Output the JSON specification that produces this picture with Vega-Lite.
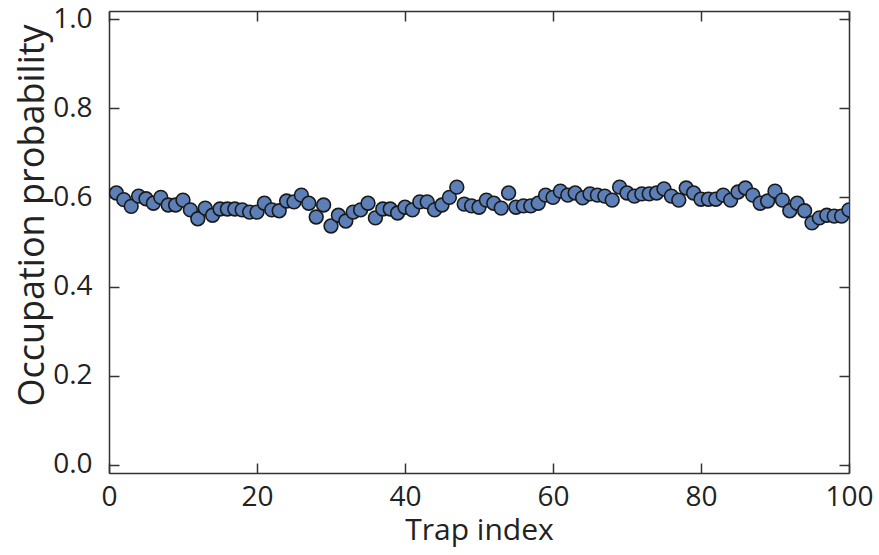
{
  "$schema": "https://vega.github.io/schema/vega-lite/v6.json",
  "autosize": "none",
  "width": 740,
  "height": 462,
  "padding": {"left": 109, "top": 11, "right": 30, "bottom": 82},
  "background": "white",
  "config": {
    "view": {"stroke": null},
    "font": "Open Sans",
    "axis": {
      "domainColor": "#333333",
      "domainWidth": 1.5,
      "tickColor": "#333333",
      "tickWidth": 1.5,
      "tickSize": -10,
      "grid": false,
      "labelFont": "Open Sans",
      "labelFontSize": 28,
      "labelColor": "#222222",
      "titleFont": "Open Sans",
      "titleFontSize": 30,
      "titleFontWeight": "normal",
      "titleColor": "#222222"
    }
  },
  "data": {
    "values": [
      {"trap": 1, "p": 0.61}, {"trap": 2, "p": 0.595}, {"trap": 3, "p": 0.58}, {"trap": 4, "p": 0.603}, {"trap": 5, "p": 0.597},
      {"trap": 6, "p": 0.587}, {"trap": 7, "p": 0.6}, {"trap": 8, "p": 0.583}, {"trap": 9, "p": 0.583}, {"trap": 10, "p": 0.594},
      {"trap": 11, "p": 0.572}, {"trap": 12, "p": 0.552}, {"trap": 13, "p": 0.576}, {"trap": 14, "p": 0.56}, {"trap": 15, "p": 0.574},
      {"trap": 16, "p": 0.574}, {"trap": 17, "p": 0.574}, {"trap": 18, "p": 0.572}, {"trap": 19, "p": 0.567}, {"trap": 20, "p": 0.567},
      {"trap": 21, "p": 0.587}, {"trap": 22, "p": 0.572}, {"trap": 23, "p": 0.57}, {"trap": 24, "p": 0.592}, {"trap": 25, "p": 0.59},
      {"trap": 26, "p": 0.605}, {"trap": 27, "p": 0.587}, {"trap": 28, "p": 0.556}, {"trap": 29, "p": 0.583}, {"trap": 30, "p": 0.536},
      {"trap": 31, "p": 0.56}, {"trap": 32, "p": 0.547}, {"trap": 33, "p": 0.567}, {"trap": 34, "p": 0.572}, {"trap": 35, "p": 0.587},
      {"trap": 36, "p": 0.554}, {"trap": 37, "p": 0.574}, {"trap": 38, "p": 0.574}, {"trap": 39, "p": 0.565}, {"trap": 40, "p": 0.578},
      {"trap": 41, "p": 0.572}, {"trap": 42, "p": 0.59}, {"trap": 43, "p": 0.59}, {"trap": 44, "p": 0.572}, {"trap": 45, "p": 0.583},
      {"trap": 46, "p": 0.6}, {"trap": 47, "p": 0.623}, {"trap": 48, "p": 0.585}, {"trap": 49, "p": 0.581}, {"trap": 50, "p": 0.578},
      {"trap": 51, "p": 0.594}, {"trap": 52, "p": 0.587}, {"trap": 53, "p": 0.576}, {"trap": 54, "p": 0.61}, {"trap": 55, "p": 0.578},
      {"trap": 56, "p": 0.581}, {"trap": 57, "p": 0.581}, {"trap": 58, "p": 0.587}, {"trap": 59, "p": 0.605}, {"trap": 60, "p": 0.6},
      {"trap": 61, "p": 0.614}, {"trap": 62, "p": 0.605}, {"trap": 63, "p": 0.61}, {"trap": 64, "p": 0.599}, {"trap": 65, "p": 0.608},
      {"trap": 66, "p": 0.605}, {"trap": 67, "p": 0.603}, {"trap": 68, "p": 0.594}, {"trap": 69, "p": 0.623}, {"trap": 70, "p": 0.61},
      {"trap": 71, "p": 0.603}, {"trap": 72, "p": 0.608}, {"trap": 73, "p": 0.608}, {"trap": 74, "p": 0.61}, {"trap": 75, "p": 0.619},
      {"trap": 76, "p": 0.603}, {"trap": 77, "p": 0.594}, {"trap": 78, "p": 0.621}, {"trap": 79, "p": 0.61}, {"trap": 80, "p": 0.596},
      {"trap": 81, "p": 0.596}, {"trap": 82, "p": 0.596}, {"trap": 83, "p": 0.605}, {"trap": 84, "p": 0.594}, {"trap": 85, "p": 0.612},
      {"trap": 86, "p": 0.621}, {"trap": 87, "p": 0.605}, {"trap": 88, "p": 0.587}, {"trap": 89, "p": 0.592}, {"trap": 90, "p": 0.614},
      {"trap": 91, "p": 0.594}, {"trap": 92, "p": 0.57}, {"trap": 93, "p": 0.587}, {"trap": 94, "p": 0.57}, {"trap": 95, "p": 0.543},
      {"trap": 96, "p": 0.554}, {"trap": 97, "p": 0.56}, {"trap": 98, "p": 0.558}, {"trap": 99, "p": 0.558}, {"trap": 100, "p": 0.572}
    ]
  },
  "layer": [
    {
      "mark": {"type": "point", "filled": true, "shape": "circle", "size": 190, "fill": "#5b7fb6", "stroke": "#1a1a1a", "strokeWidth": 1.6, "opacity": 1, "clip": true},
      "encoding": {
        "x": {
          "field": "trap", "type": "quantitative",
          "scale": {"domain": [0, 100], "nice": false, "zero": false},
          "axis": {"orient": "bottom", "values": [0, 20, 40, 60, 80, 100], "title": "Trap index", "labelPadding": 20, "titlePadding": 4, "labelFlush": false}
        },
        "y": {
          "field": "p", "type": "quantitative",
          "scale": {"domain": [-0.018, 1.018], "nice": false, "zero": false},
          "axis": {"orient": "left", "values": [0, 0.2, 0.4, 0.6, 0.8, 1.0], "format": ".1f", "title": "Occupation probability", "labelPadding": 27, "titleFontSize": 36, "titleX": -66, "titleY": 204, "titleBaseline": "alphabetic", "titleAngle": -90}
        }
      }
    },
    {
      "mark": {"type": "point", "opacity": 0},
      "encoding": {
        "x": {
          "field": "trap", "type": "quantitative",
          "axis": {"orient": "top", "values": [0, 20, 40, 60, 80, 100], "labels": false, "title": null}
        },
        "y": {
          "field": "p", "type": "quantitative",
          "axis": {"orient": "right", "values": [0, 0.2, 0.4, 0.6, 0.8, 1.0], "labels": false, "title": null}
        }
      }
    }
  ],
  "resolve": {"axis": {"x": "independent", "y": "independent"}}
}
